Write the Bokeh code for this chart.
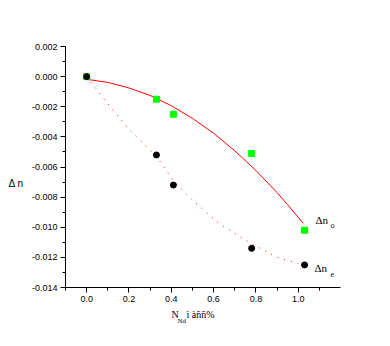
from bokeh.plotting import figure
from bokeh.models import Range1d, SingleIntervalTicker, PrintfTickFormatter, Label
from bokeh.embed import file_html
from bokeh.resources import INLINE

# Measured points
x_pts = [0.0, 0.33, 0.41, 0.78, 1.03]
dn_o = [0.0, -0.0015, -0.0025, -0.0051, -0.0102]
dn_e = [0.0, -0.0052, -0.0072, -0.0114, -0.0125]

# Fitted curve (solid, ordinary)
fit_o_x = [0.0, 0.1, 0.2, 0.3, 0.4, 0.5, 0.6, 0.7, 0.8, 0.9, 0.95, 1.023]
fit_o_y = [-0.00018, -0.00038, -0.00075, -0.00125, -0.00193, -0.00277, -0.00376,
           -0.00492, -0.00623, -0.0077, -0.0085, -0.00973]

# Fitted curve (dotted, extraordinary)
fit_e_x = [0.0, 0.1, 0.2, 0.33, 0.41, 0.5, 0.63, 0.78, 0.9, 1.0]
fit_e_y = [0.0, -0.0018, -0.0035, -0.0053, -0.0069, -0.0082, -0.0098, -0.0111, -0.0120, -0.0124]

# Axis extents
X_MIN, X_MAX = -0.1, 1.2
Y_MIN, Y_MAX = -0.014, 0.002

W, H = 374, 330
FRAME_L, FRAME_R = 65, 340   # canvas px of X_MIN / X_MAX
FRAME_T, FRAME_B = 46, 287   # canvas px of Y_MAX / Y_MIN
sx = (X_MAX - X_MIN) / (FRAME_R - FRAME_L)
sy = (Y_MAX - Y_MIN) / (FRAME_B - FRAME_T)

p = figure(width=W, height=H, output_backend="svg", toolbar_location=None,
           x_range=Range1d(X_MIN - FRAME_L * sx, X_MIN + (W - FRAME_L) * sx),
           y_range=Range1d(Y_MAX - (H - FRAME_T) * sy, Y_MAX + FRAME_T * sy),
           min_border=0)
p.outline_line_color = None
p.grid.visible = False
p.background_fill_color = "white"
p.border_fill_color = "white"

p.xaxis.fixed_location = Y_MIN
p.yaxis.fixed_location = X_MIN
p.xaxis.bounds = (X_MIN, X_MAX)
p.yaxis.bounds = (Y_MIN, Y_MAX)

for ax in (p.xaxis[0], p.yaxis[0]):
    ax.axis_line_color = "black"
    ax.major_tick_in = 0
    ax.major_tick_out = 5
    ax.minor_tick_in = 0
    ax.minor_tick_out = 3
    ax.major_tick_line_color = "black"
    ax.minor_tick_line_color = "black"
    ax.major_label_text_font = "Liberation Sans"
    ax.major_label_text_font_size = "9px"
    ax.major_label_text_color = "black"
    ax.major_label_standoff = 3

p.xaxis.ticker = SingleIntervalTicker(interval=0.2, num_minor_ticks=2)
p.yaxis.ticker = SingleIntervalTicker(interval=0.002, num_minor_ticks=2)
p.xaxis.formatter = PrintfTickFormatter(format="%.1f")
p.yaxis.formatter = PrintfTickFormatter(format="%.3f")

p.line(fit_o_x, fit_o_y, line_color="red", line_width=1)
p.line(fit_e_x, fit_e_y, line_color="red", line_width=1, line_dash="1 6")

p.scatter(x_pts, dn_o, marker="square", size=6, fill_color="#00ff00", line_color="#00ff00")
p.scatter(x_pts, dn_e, marker="circle", size=6, fill_color="black", line_color="black")

def lab(x, y, t, size="10px", font="Liberation Serif"):
    p.add_layout(Label(x=x, y=y, text=t, text_font=font, text_font_size=size,
                       text_color="black", text_baseline="middle", text_align="left"))

# Curve labels
lab(1.082, -0.0095, "Δn", "11px")
lab(1.153, -0.0099, "o", "8px")
lab(1.077, -0.0127, "Δn", "11px")
lab(1.153, -0.0131, "e", "8px")

# Axis labels
lab(-0.3695, -0.0071, "Δ n", "10px", "Liberation Sans")
lab(0.401, -0.0158, "N", "10px")
lab(0.4295, -0.0162, "Nd", "7px")
lab(0.472, -0.0158, "ì àññ%", "10px")

open("out.html", "w").write(file_html(p, INLINE))
